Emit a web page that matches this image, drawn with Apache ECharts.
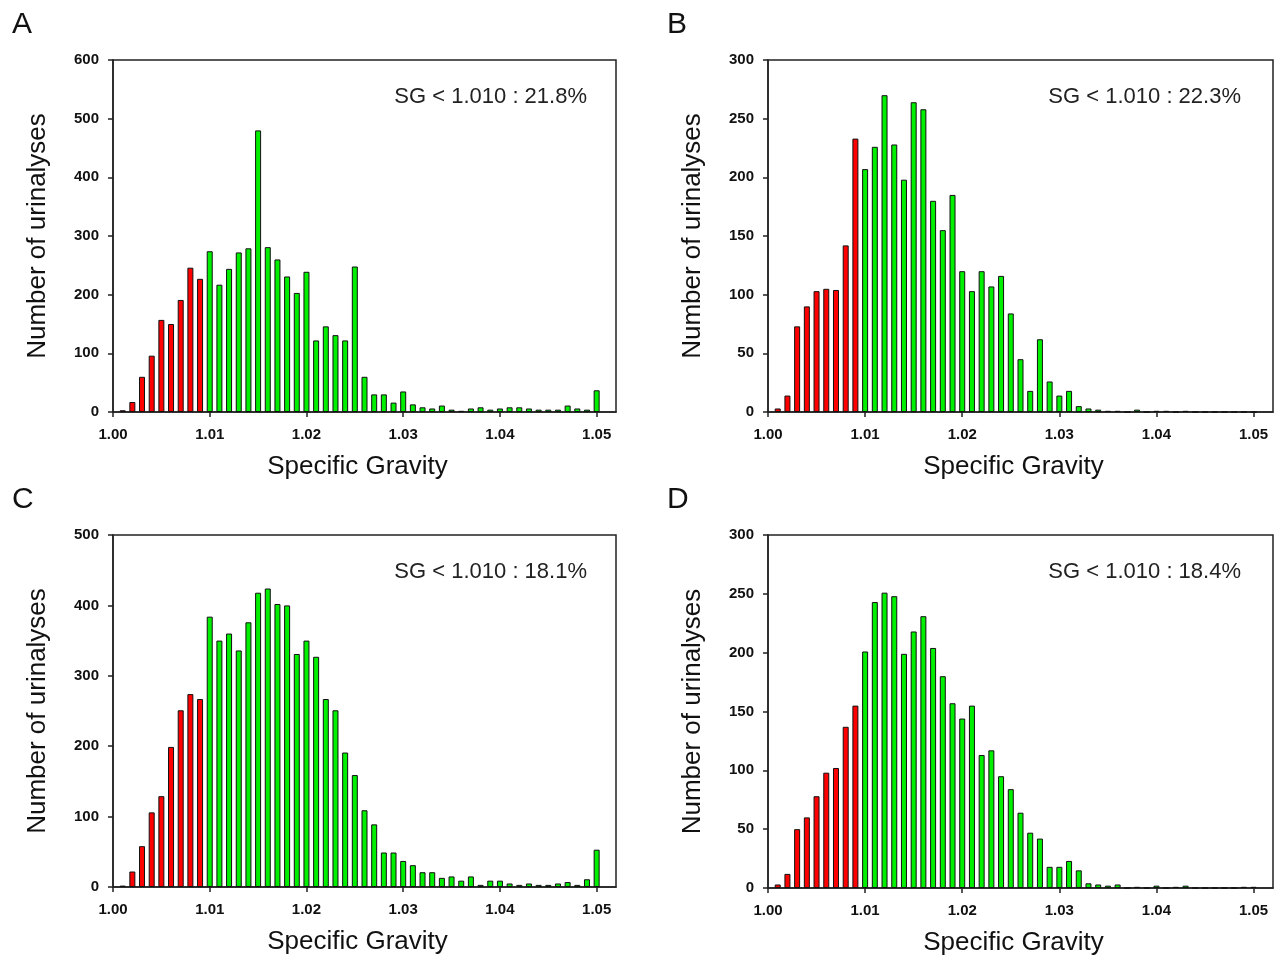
<!DOCTYPE html>
<html><head><meta charset="utf-8">
<script src="https://cdn.jsdelivr.net/npm/echarts@6/dist/echarts.min.js"></script>
<style>html,body{margin:0;padding:0;background:#fff}#c{width:1286px;height:959px}</style>
</head><body><div id="c"></div>
<script>
const sgValues = [1.001,1.002,1.003,1.004,1.005,1.006,1.007,1.008,1.009,1.010,
  1.011,1.012,1.013,1.014,1.015,1.016,1.017,1.018,1.019,1.020,
  1.021,1.022,1.023,1.024,1.025,1.026,1.027,1.028,1.029,1.030,
  1.031,1.032,1.033,1.034,1.035,1.036,1.037,1.038,1.039,1.040,
  1.041,1.042,1.043,1.044,1.045,1.046,1.047,1.048,1.049,1.050];
const countsA = [3,17,60,96,157,150,191,246,227, 274,217,244,272,279,480,281,260,231,203,239,
  122,146,131,122,248,60,30,30,16,35, 13,8,6,11,4,2,6,8,4,6, 8,8,6,4,4,4,11,6,4,37];
const countsB = [3,14,73,90,103,105,104,142,233, 207,226,270,228,198,264,258,180,155,185,120,
  103,120,107,116,84,45,18,62,26,14, 18,5,3,2,1,1,0,2,0,1, 1,0,1,0,0,0,0,0,0,0];
const countsC = [2,22,58,106,129,199,251,274,267, 384,350,360,336,376,418,424,402,400,331,350,
  327,267,251,191,159,109,89,49,49,37, 31,21,21,13,15,9,15,3,9,9, 5,3,5,3,3,5,7,3,11,53];
const countsD = [3,12,50,60,78,98,102,137,155, 201,243,251,248,199,218,231,204,180,157,144,
  155,113,117,95,84,64,47,42,18,18, 23,15,4,3,2,3,0,1,0,2, 0,1,2,0,0,0,0,0,1,1];
const xTickValues = [1.00,1.01,1.02,1.03,1.04,1.05];
const panelLetters = ['A','B','C','D'];
const annotations = ['SG < 1.010 : 21.8%','SG < 1.010 : 22.3%','SG < 1.010 : 18.1%','SG < 1.010 : 18.4%'];
const yMaxes = [600,300,500,300];
const yIntervals = [100,50,100,50];
const cutoff = 1.010;
const xName = 'Specific Gravity';
const yName = 'Number of urinalyses';

const allCounts = [countsA,countsB,countsC,countsD];
const grids = [
  {left:113, top:60, width:503, height:352},
  {left:768, top:60, width:505, height:352},
  {left:113, top:535, width:503, height:352},
  {left:768, top:535, width:505, height:353}
];
const RED = '#ff0000', GREEN = '#00f000';
const tickFont = {fontFamily:'Liberation Sans, Arial', fontWeight:'bold', fontSize:15, color:'#111'};
const nameFont = {fontFamily:'Liberation Sans, Arial', fontSize:26, color:'#111'};

const option = {
  animation:false,
  backgroundColor:'#fff',
  grid: grids.map(g => Object.assign({show:true, borderColor:'#222', borderWidth:1.5, backgroundColor:'transparent', containLabel:false}, g)),
  xAxis: grids.map((g,i) => ({
    type:'value', gridIndex:i, min:1.0, max:1.052,
    name:xName, nameLocation:'middle', nameGap:42,
    nameTextStyle:Object.assign({padding:[0,14,0,0]}, nameFont),
    axisLine:{show:true, onZero:false, lineStyle:{color:'#222', width:1.5}},
    axisTick:{show:true, inside:false, length:5, customValues:xTickValues, lineStyle:{color:'#222', width:1.5}},
    axisLabel:Object.assign({customValues:xTickValues, margin:15, formatter:v => Number(v).toFixed(2)}, tickFont),
    splitLine:{show:false}
  })),
  yAxis: grids.map((g,i) => ({
    type:'value', gridIndex:i, min:0, max:yMaxes[i], interval:yIntervals[i],
    name:yName, nameLocation:'middle', nameGap:62, nameTextStyle:nameFont,
    axisLine:{show:true, lineStyle:{color:'#222', width:1.5}},
    axisTick:{show:true, inside:false, length:5, lineStyle:{color:'#222', width:1.5}},
    axisLabel:Object.assign({margin:14}, tickFont),
    splitLine:{show:false}
  })),
  series: allCounts.map((counts,i) => ({
    type:'bar', xAxisIndex:i, yAxisIndex:i, barWidth:6,
    data: sgValues.map((x,j) => [x, counts[j]]),
    itemStyle:{
      color: p => (p.value[0] < cutoff - 1e-9 ? RED : GREEN),
      borderColor:'#111', borderWidth:1
    }
  })),
  graphic: [
    ...panelLetters.map((t,i) => ({
      type:'text', x: i%2 ? 667 : 12, y: i<2 ? 10 : 485,
      style:{text:t, fontFamily:'Liberation Sans, Arial', fontSize:30, fill:'#111'}
    })),
    ...annotations.map((t,i) => ({
      type:'text', x: i%2 ? 1241 : 587, y: i<2 ? 97 : 572,
      style:{text:t, fontFamily:'Liberation Sans, Arial', fontSize:22, fill:'#222', textAlign:'right', textVerticalAlign:'middle'}
    }))
  ]
};
const chart = echarts.init(document.getElementById('c'), null, {renderer:'canvas'});
chart.setOption(option);
</script>
</body></html>
